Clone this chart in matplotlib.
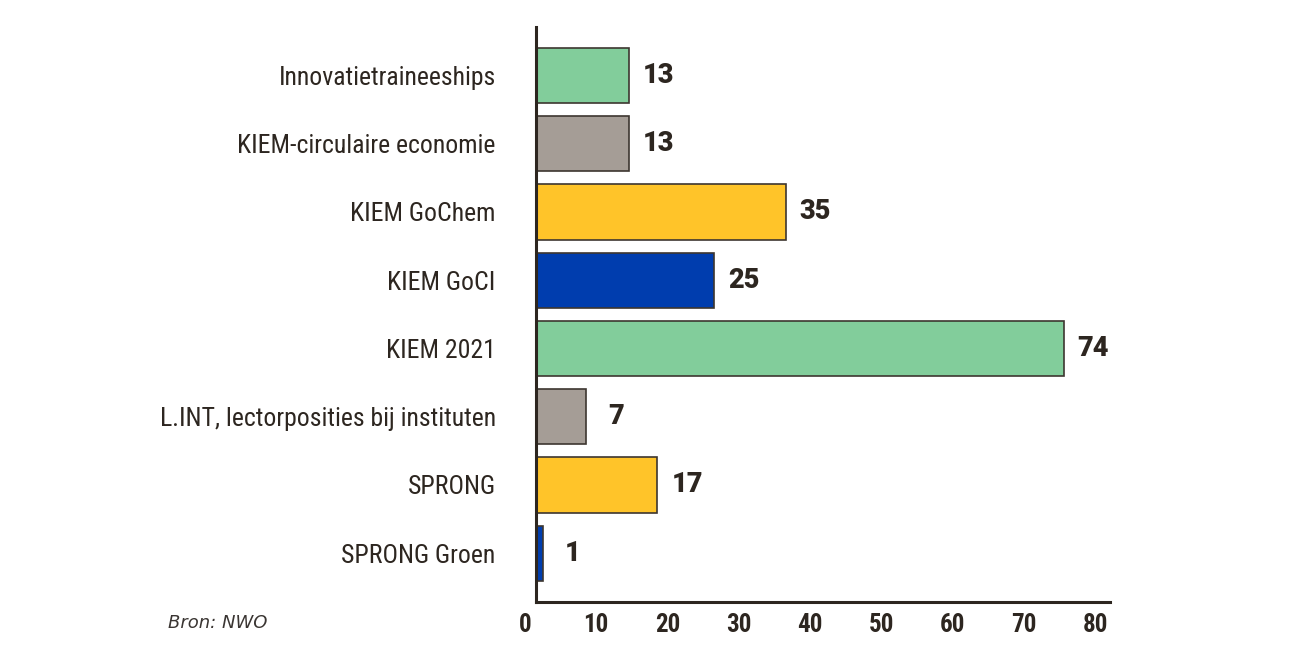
import numpy as np
import matplotlib
matplotlib.use('Agg')
from matplotlib import pyplot as plt
from matplotlib import transforms

# data
categories = ['Innovatietraineeships', 'KIEM-circulaire economie', 'KIEM GoChem',
              'KIEM GoCI', 'KIEM 2021', 'L.INT, lectorposities bij instituten',
              'SPRONG', 'SPRONG Groen']
values = [13, 13, 35, 25, 74, 7, 17, 1]
bar_colors = ['#82cd9b', '#a59d96', '#ffc429', '#003dae',
              '#82cd9b', '#a59d96', '#ffc429', '#003dae']
x_ticks = [0, 10, 20, 30, 40, 50, 60, 70, 80]
source = 'Bron: NWO'

text_c = '#2d2620'
edge_c = '#3d3630'

fig = plt.figure(figsize=(13, 6.68), dpi=100)
ax = fig.add_axes([0.4123, 0.0988, 0.4415, 0.8608])

y = np.arange(len(categories))
ax.barh(y, values, height=0.81, color=bar_colors, edgecolor=edge_c, linewidth=1.2, zorder=2)

# waarden achter de balken
for yi, v in zip(y, values):
    ax.annotate(str(v), xy=(v, yi), xytext=(21.5, 0), textcoords='offset points',
                ha='center', va='center', fontsize=19.5, fontweight=900,
                family=['Roboto', 'DejaVu Sans'], color=text_c)

ax.set_xlim(0, 80.5)
ax.set_ylim(7.715, -0.71)
ax.set_yticks(y)
ax.set_yticklabels(categories, family=['Roboto Condensed', 'DejaVu Sans'],
                   fontsize=18.5, color=text_c)
ax.set_xticks(x_ticks)
ax.set_xticklabels([str(t) for t in x_ticks], family=['Roboto Condensed', 'DejaVu Sans'],
                   fontsize=18, fontweight='bold', color=text_c)

ax.tick_params(axis='y', length=0, pad=29)
ax.tick_params(axis='x', length=0, pad=8)

# labels iets naar links, zoals in het origineel
shift = transforms.ScaledTranslation(-8 / 72, 0, fig.dpi_scale_trans)
for lbl in ax.get_xticklabels():
    lbl.set_transform(lbl.get_transform() + shift)

for s in ['top', 'right']:
    ax.spines[s].set_visible(False)
for s in ['left', 'bottom']:
    ax.spines[s].set_linewidth(2.2)
    ax.spines[s].set_color(text_c)

fig.text(0.129, 0.068, source, fontsize=13, style='italic', color='#3a3532',
         ha='left', va='center')

fig.savefig('out.png', dpi=100, facecolor='white')
